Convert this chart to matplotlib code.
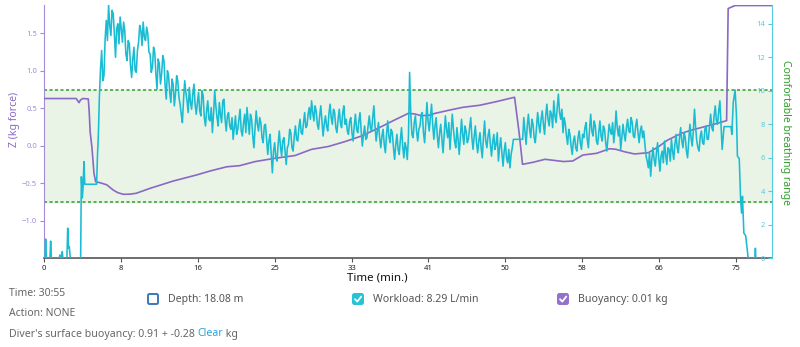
import matplotlib.pyplot as plt
import numpy as np
from matplotlib.patches import FancyBboxPatch

plt.rcParams["font.family"] = ["Noto Sans", "DejaVu Sans"]

# buoyancy trace (Z, kg force) against time in minutes
buoy_time = [0.0, 3.5, 3.65, 3.8, 3.95, 4.2, 4.8, 4.9, 5.0, 5.2, 5.42, 5.6, 6.0,
             6.8, 7.5, 8.0, 8.6, 9.3, 10.0, 11.5, 14.0, 16.5, 18.0, 19.8, 21.2,
             22.9, 25.0, 27.2, 29.0, 30.8, 32.6, 34.4, 36.2, 38.0, 39.5, 40.2,
             40.9, 41.8, 42.4, 44.0, 45.4, 47.2, 49.0, 51.0, 51.5, 51.86, 53.0,
             54.3, 56.3, 57.3, 58.4, 59.9, 61.3, 62.0, 62.9, 64.0, 65.5, 66.6,
             67.6, 69.1, 70.2, 71.6, 72.7, 73.98, 74.15, 74.9, 78.85]
buoy_z = [0.63, 0.63, 0.60, 0.575, 0.61, 0.63, 0.625, 0.45, 0.19, -0.03, -0.37, -0.48, -0.49,
          -0.52, -0.59, -0.625, -0.647, -0.645, -0.633, -0.567, -0.47, -0.39, -0.336, -0.28, -0.265,
          -0.21, -0.167, -0.13, -0.047, -0.01, 0.055, 0.13, 0.233, 0.344, 0.433, 0.424,
          0.40, 0.41, 0.433, 0.477, 0.513, 0.54, 0.588, 0.647, 0.167, -0.247, -0.22,
          -0.18, -0.21, -0.203, -0.123, -0.10, -0.039, -0.047, -0.079, -0.109, -0.092, -0.012,
          0.077, 0.167, 0.21, 0.255, 0.29, 0.335, 1.83, 1.87, 1.87]

# workload (L/min): irregular start of the dive
work_head_time = [0.0, 0.1, 0.18, 0.26, 0.65, 0.72, 0.8, 1.65, 1.73, 1.8, 1.9, 1.98, 2.05,
                  2.48, 2.57, 2.66, 2.74, 2.85, 3.97, 4.05, 4.15, 4.24, 4.33, 4.42, 5.7, 5.8, 5.9]
work_head = [0.0, 0.0, 1.15, 0.0, 0.0, 1.03, 0.0, 0.0, 0.2, 0.0, 0.0, 0.4, 0.0,
             0.0, 1.8, 0.6, 0.7, 0.0, 0.0, 4.87, 3.6, 4.3, 5.77, 4.42, 4.42, 6.2, 7.5]

# workload sampled every 1/8 minute from 6.0 to 73.5 min (one row = 2 min)
WORK_START = 6.0
WORK_STEP = 0.125
work_body = [
    9.6, 11.3, 12.4, 10.6, 10.9, 13.1, 14.2, 13.0, 15.1, 13.9, 13.3, 14.8, 14.6, 13.4, 12.0, 13.7,
    14.0, 12.8, 14.4, 13.7, 12.9, 14.1, 13.6, 12.2, 11.8, 13.0, 12.8, 11.5, 10.8, 11.9, 12.6, 11.2,
    11.1, 12.4, 12.9, 13.9, 13.6, 12.7, 14.1, 13.2, 13.0, 13.8, 13.4, 12.3, 12.2, 11.1, 11.4, 12.6,
    12.3, 11.0, 10.1, 11.9, 11.6, 10.4, 11.0, 12.1, 11.8, 10.3, 9.5, 11.2, 10.9, 9.9, 9.3, 10.7,
    10.4, 9.1, 9.8, 10.9, 10.6, 9.6, 9.2, 8.6, 8.1, 9.5, 10.6, 9.9, 9.4, 8.7, 10.2, 9.3,
    8.9, 9.8, 10.4, 9.2, 8.6, 9.3, 9.9, 8.8, 8.5, 10.0, 9.7, 8.4, 7.9, 8.8, 9.4, 8.3,
    8.2, 9.0, 7.5, 8.6, 10.0, 9.1, 8.4, 7.9, 9.3, 8.6, 8.1, 9.4, 9.5, 8.3, 7.6, 8.5,
    8.7, 7.9, 7.7, 8.4, 7.1, 7.8, 8.5, 7.4, 7.7, 8.3, 8.9, 7.6, 7.3, 8.1, 8.6, 7.5,
    9.0, 8.2, 7.4, 8.6, 8.3, 7.3, 6.6, 7.8, 8.8, 8.0, 7.6, 8.4, 8.1, 7.2, 6.9, 7.9,
    8.0, 7.1, 6.2, 7.0, 7.4, 6.3, 5.1, 6.4, 6.9, 6.0, 5.8, 6.8, 7.6, 6.7, 6.1, 7.0,
    7.2, 6.4, 5.6, 6.6, 6.8, 7.7, 7.5, 6.6, 6.4, 7.3, 7.9, 7.1, 7.0, 7.8, 8.3, 7.5,
    7.4, 8.1, 8.7, 7.8, 7.9, 8.6, 9.0, 8.3, 9.4, 8.7, 8.2, 9.1, 8.8, 8.0, 7.7, 8.5,
    9.1, 8.2, 7.3, 8.0, 8.5, 7.9, 7.6, 8.6, 9.2, 8.4, 8.0, 8.9, 8.7, 7.8, 7.5, 8.3,
    8.9, 8.1, 7.8, 8.7, 9.1, 8.0, 8.3, 7.6, 7.4, 8.2, 8.4, 7.5, 7.0, 7.9, 8.6, 7.7,
    7.5, 8.2, 8.7, 7.6, 6.7, 7.4, 7.9, 7.1, 7.2, 7.9, 8.5, 7.8, 7.6, 8.4, 9.1, 7.9,
    7.0, 7.6, 8.1, 7.2, 6.6, 7.3, 7.7, 6.8, 6.3, 7.4, 8.2, 7.3, 6.9, 7.7, 7.5, 6.6,
    5.9, 6.8, 7.4, 6.5, 6.2, 7.1, 7.8, 6.7, 6.0, 6.9, 6.6, 5.9, 7.3, 11.1, 8.6, 7.4,
    7.2, 8.1, 8.5, 7.6, 7.0, 7.7, 7.9, 8.6, 8.7, 7.5, 6.9, 8.0, 9.3, 8.2, 7.6, 8.4,
    9.2, 8.0, 7.1, 7.9, 8.4, 7.3, 6.6, 7.5, 8.0, 7.1, 6.3, 7.4, 8.5, 7.7, 7.2, 8.1,
    6.5, 7.6, 8.6, 7.7, 7.0, 6.6, 7.8, 7.1, 6.2, 7.3, 8.3, 7.4, 6.8, 7.9, 7.6, 6.9,
    7.1, 7.8, 8.4, 7.2, 6.5, 7.3, 7.9, 6.9, 6.3, 7.0, 7.5, 6.6, 6.0, 7.2, 8.2, 7.0,
    6.6, 7.3, 7.7, 6.8, 6.1, 6.9, 7.4, 6.5, 6.8, 7.5, 5.8, 6.6, 7.2, 6.3, 5.5, 6.4,
    6.9, 6.0, 5.7, 6.5, 5.4, 6.2, 6.6, 7.1, 7.1, 7.1, 7.1, 7.1, 7.1, 7.1, 7.1, 7.1,
    8.4, 7.6, 6.8, 7.9, 8.6, 7.7, 7.2, 8.3, 8.0, 7.2, 6.9, 7.8, 8.7, 8.0, 7.5, 8.3,
    8.8, 8.0, 7.4, 8.5, 9.2, 8.3, 7.9, 8.8, 8.6, 7.8, 9.4, 8.5, 8.1, 9.0, 9.8, 8.7,
    8.3, 8.9, 7.5, 8.4, 8.0, 7.3, 6.8, 7.7, 7.4, 6.7, 6.2, 7.0, 7.3, 6.6, 6.4, 7.2,
    7.6, 6.9, 6.5, 7.4, 7.2, 7.8, 8.1, 7.1, 6.6, 7.7, 8.6, 7.6, 7.3, 8.2, 7.9, 7.0,
    6.8, 7.5, 8.2, 7.3, 7.0, 7.9, 7.7, 6.9, 6.4, 7.2, 8.0, 7.6, 7.4, 8.1, 6.9, 7.6,
    8.8, 7.8, 7.3, 7.9, 6.5, 7.2, 8.0, 7.4, 7.0, 7.8, 8.3, 7.6, 7.5, 8.4, 8.1, 7.3,
    7.2, 7.9, 8.3, 7.5, 6.9, 7.6, 7.9, 7.2, 7.6, 6.8, 6.1, 5.8, 5.4, 6.3, 4.9, 5.9,
    6.6, 5.9, 5.5, 6.3, 6.9, 6.0, 5.2, 6.1, 6.4, 5.7, 7.0, 6.2, 5.6, 6.6, 6.5, 5.8,
    7.1, 6.4, 5.9, 6.8, 7.4, 6.6, 6.3, 7.2, 7.8, 7.0, 6.6, 7.5, 7.2, 6.4, 6.0, 7.0,
    8.0, 7.2, 6.7, 7.6, 8.9, 7.8, 7.0, 6.6, 6.4, 7.3, 7.6, 6.9, 6.8, 7.7, 7.9, 7.1,
    7.1, 7.9, 8.6, 7.8, 7.6, 8.5, 9.1, 8.2, 8.0, 8.8, 9.4, 7.9, 6.5,
]

# workload: surfacing at the end of the dive
work_tail_time = [73.7, 74.45, 74.55, 74.7, 74.9, 75.05, 75.15, 75.35, 75.5, 75.6, 75.7,
                  75.85, 76.05, 76.3, 76.45, 77.05, 77.1, 77.15, 78.9]
work_tail = [7.86, 7.86, 7.4, 9.3, 10.05, 8.5, 6.1, 5.95, 3.5, 2.7, 3.7,
             1.5, 1.35, 0.1, 0.0, 0.0, 0.6, 0.0, 0.0]

x_tick_values = [0, 25 / 3, 50 / 3, 25, 100 / 3, 125 / 3, 50, 175 / 3, 200 / 3, 75]
x_tick_labels = ["0", "8", "16", "25", "33", "41", "50", "58", "66", "75"]
z_ticks = [-1.0, -0.5, 0.0, 0.5, 1.0, 1.5]
z_tick_labels = ["\u22121.0", "\u22120.5", "0.0", "0.5", "1.0", "1.5"]
work_ticks = [0, 2, 4, 6, 8, 10, 12, 14]
comfort_band = (-0.745, 0.745)

PURPLE = "#8a68c4"
PURPLE_LIGHT = "#a58bd6"
CYAN = "#19bcd2"
CYAN_LIGHT = "#55cbe0"
GREEN = "#2f9e2a"
BAND = "#e9f4e7"
GREY = "#666666"

work_time = np.concatenate([
    work_head_time,
    WORK_START + WORK_STEP * np.arange(len(work_body)),
    work_tail_time,
])
work_values = np.concatenate([work_head, work_body, work_tail])

fig = plt.figure(figsize=(8, 3.47), dpi=100)
ax = fig.add_axes([44 / 800, 1 - 258.3 / 347, 728 / 800, 253.3 / 347])
ax2 = ax.twinx()

ax.set_xlim(0, 78.9)
ax.set_ylim(-1.5, 1.877)
ax2.set_ylim(0, 15.12)

ax.axhspan(*comfort_band, color=BAND, zorder=0)
for level in comfort_band:
    ax.axhline(level, color=GREEN, linestyle=(0, (2, 1.6)), linewidth=1.1, zorder=1)

ax.plot(buoy_time, buoy_z, color=PURPLE, linewidth=1.2, zorder=3)
ax2.plot(work_time, work_values, color=CYAN, linewidth=1.15, zorder=2)

ax.spines["top"].set_visible(False)
ax2.spines["top"].set_visible(False)
ax.spines["right"].set_visible(False)
ax2.spines["left"].set_visible(False)
ax2.spines["bottom"].set_visible(False)
ax.spines["left"].set_color(PURPLE_LIGHT)
ax2.spines["right"].set_color(CYAN_LIGHT)
ax.spines["bottom"].set_color("#555555")
ax.spines["bottom"].set_linewidth(1.2)

ax.set_xticks(x_tick_values)
ax.set_xticklabels(x_tick_labels)
ax.tick_params(axis="x", length=3, width=0.8, color="#555555", labelsize=5.5,
               labelcolor="#222222", pad=1.5)
for label in ax.get_xticklabels():
    label.set_fontweight("bold")

ax.set_yticks(z_ticks)
ax.set_yticklabels(z_tick_labels)
ax.tick_params(axis="y", length=3, width=0.8, color=PURPLE_LIGHT, labelsize=5.5,
               labelcolor=PURPLE_LIGHT, pad=2)

# workload ticks sit inside the plot, left of the right spine
ax2.set_yticks(work_ticks)
ax2.tick_params(axis="y", direction="in", length=3, width=0.8, color=CYAN_LIGHT,
                labelsize=5.5, labelcolor=CYAN_LIGHT, pad=-5)
for label in ax2.get_yticklabels():
    label.set_horizontalalignment("right")

# labels and the readout panel below the chart, in pixel coordinates
panel = fig.add_axes([0, 0, 1, 1], zorder=-1)
panel.set_xlim(0, 800)
panel.set_ylim(347, 0)
panel.axis("off")

fig.text(15 / 800, 1 - 119 / 347, "Z (kg force)", rotation=90, color=PURPLE,
         fontsize=7.5, fontweight="medium", ha="center", va="center")
fig.text(786 / 800, 1 - 132 / 347, "Comfortable breathing range", rotation=-90,
         color=GREEN, fontsize=7.5, fontweight="bold", ha="center", va="center")
fig.text(377 / 800, 1 - 278.5 / 347, "Time (min.)", color="#111111", fontsize=8.3,
         fontweight="bold", ha="center", va="center")

panel.text(9, 294, "Time: 30:55", color=GREY, fontsize=7.5, va="center")
panel.text(9, 313, "Action: NONE", color=GREY, fontsize=7.5, va="center")
buoy_line = panel.text(9, 334, "Diver's surface buoyancy: 0.91 + -0.28 ", color=GREY,
                       fontsize=7.6, va="center")
clear = panel.annotate("Clear", xycoords=buoy_line, xy=(1, 0.5), va="center",
                       color="#2ba3dc", fontsize=7.6)
panel.annotate(" kg", xycoords=clear, xy=(1, 0.5), va="center", color=GREY, fontsize=7.6)

checkboxes = [
    (147, "Depth: 18.08 m", "#3b78b8", False),
    (352, "Workload: 8.29 L/min", "#26c2d6", True),
    (557, "Buoyancy: 0.01 kg", "#9370cc", True),
]
for left, label, color, checked in checkboxes:
    box = FancyBboxPatch((left + 1, 294), 10, 10, boxstyle="round,pad=0,rounding_size=1.5",
                         facecolor=color if checked else "white", edgecolor=color,
                         linewidth=1.4)
    panel.add_patch(box)
    if checked:
        panel.plot([left + 3, left + 5.3, left + 9.3], [299.2, 301.6, 296.5],
                   color="white", linewidth=1.3, solid_capstyle="round")
    panel.text(left + 21, 299.5, label, color="#555555", fontsize=7.6, va="center")

fig.savefig("out.png", dpi=100, facecolor="white")
